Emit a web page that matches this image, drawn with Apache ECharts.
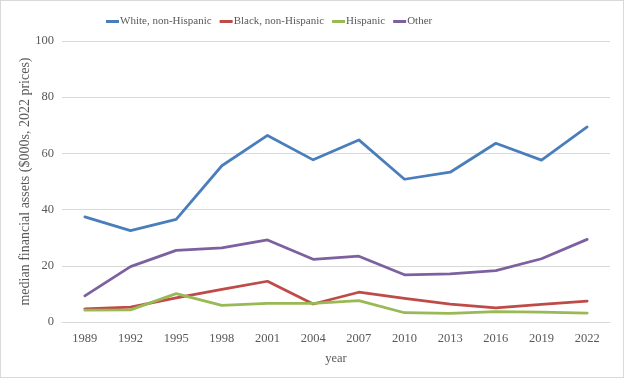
<!DOCTYPE html>
<html><head><meta charset="utf-8">
<script src="https://cdn.jsdelivr.net/npm/echarts@6/dist/echarts.min.js"></script>
<style>html,body{margin:0;padding:0;background:#fff}#c{width:624px;height:378px;box-sizing:border-box;border:1px solid #d9d9d9}</style>
</head><body><div id="c"></div>
<script>
const years = ['1989','1992','1995','1998','2001','2004','2007','2010','2013','2016','2019','2022'];
const white = [37.4, 32.5, 36.5, 55.6, 66.4, 57.7, 64.8, 50.8, 53.3, 63.6, 57.6, 69.4];
const black = [4.7, 5.3, 8.6, 11.6, 14.5, 6.4, 10.6, 8.4, 6.4, 5.0, 6.3, 7.4];
const hispanic = [4.2, 4.3, 10.1, 5.9, 6.6, 6.6, 7.6, 3.3, 3.1, 3.7, 3.5, 3.2];
const other = [9.3, 19.7, 25.5, 26.4, 29.2, 22.3, 23.4, 16.8, 17.1, 18.3, 22.5, 29.4];
const names = ['White, non-Hispanic','Black, non-Hispanic','Hispanic','Other'];
const colors = ['#4A7EBB','#BE4B48','#98B954','#7D60A0'];
const yTicks = [0,20,40,60,80,100];

const font = 'Liberation Serif';
const chart = echarts.init(document.getElementById('c'), null, {renderer:'canvas'});
const data = [white, black, hispanic, other];
chart.setOption({
  animation:false,
  color: colors,
  textStyle:{fontFamily:font},
  legend:{
    top:10, left:100, itemWidth:13, itemHeight:3, itemGap:8,
    icon:'rect',
    textStyle:{fontFamily:font, fontSize:11, color:'#595959', padding:[0,0,0,-4]},
    data: names
  },
  grid:{left:61, right:13, top:40, bottom:55},
  xAxis:{
    type:'category', data:years, boundaryGap:true,
    name:'year', nameLocation:'middle', nameGap:30,
    nameTextStyle:{fontFamily:font, fontSize:12.5, color:'#595959'},
    axisLine:{lineStyle:{color:'#d9d9d9'}},
    axisTick:{show:false},
    axisLabel:{fontFamily:font, fontSize:12.5, color:'#595959', margin:10}
  },
  yAxis:{
    type:'value', min:yTicks[0], max:yTicks[yTicks.length-1], interval:20,
    name:'median financial assets ($000s, 2022 prices)', nameLocation:'middle', nameGap:30,
    nameMoveOverlap:false,
    nameTextStyle:{fontFamily:font, fontSize:14, color:'#595959'},
    axisLine:{show:false}, axisTick:{show:false},
    splitLine:{lineStyle:{color:'#d9d9d9'}},
    axisLabel:{fontFamily:font, fontSize:12.5, color:'#595959', margin:8}
  },
  series: names.map((n,i)=>({
    name:n, type:'line', data:data[i], symbol:'none',
    lineStyle:{width:2.75, color:colors[i], cap:'round', join:'round'}
  }))
});
</script></body></html>
